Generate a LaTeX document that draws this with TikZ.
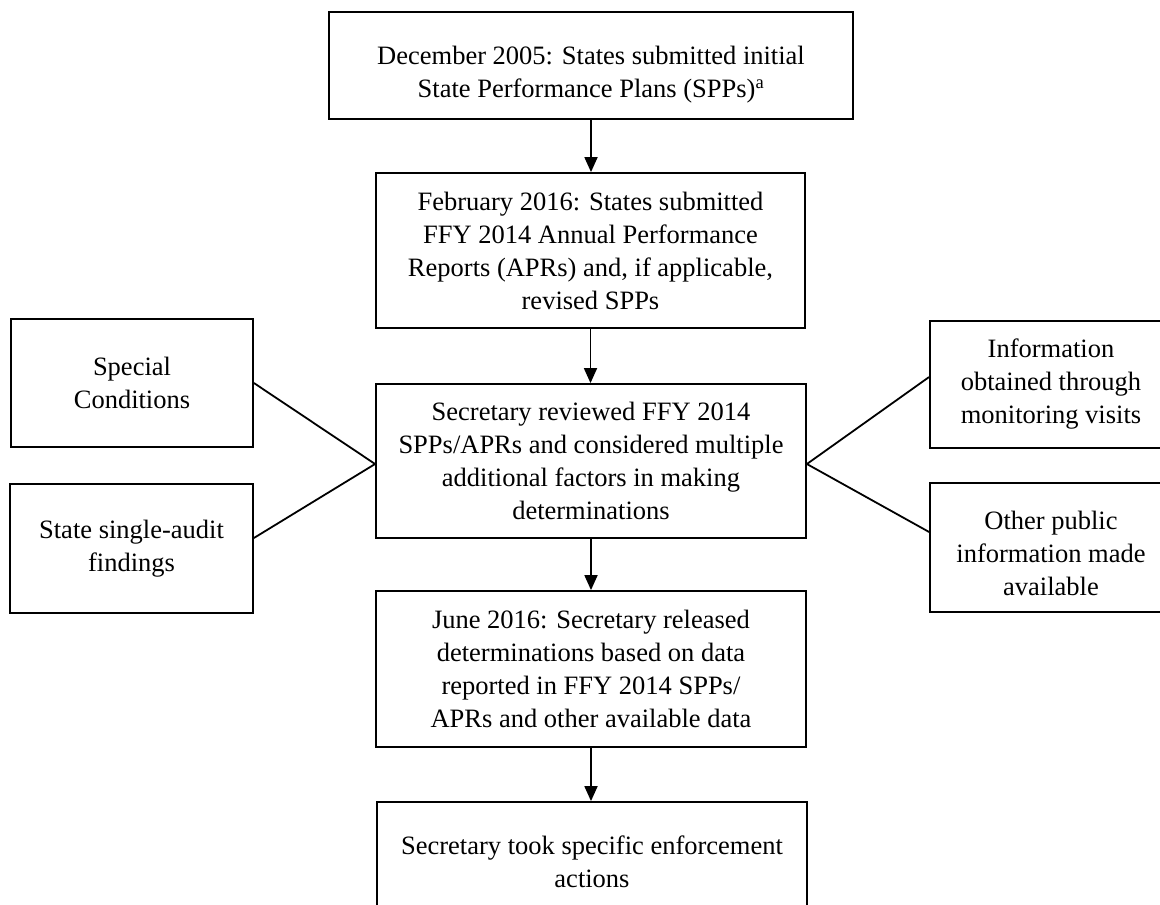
\documentclass[tikz,border=0pt]{standalone}
\usepackage{fontspec}
\setmainfont{Liberation Serif}
\usetikzlibrary{arrows.meta}
\tikzset{
  box/.style={draw, line width=1.8pt, inner sep=0pt, align=center,
    font=\fontsize{26.5}{33}\selectfont},
  arr/.style={line width=1.8pt, -{Triangle[width=13pt,length=15pt]}},
  link/.style={line width=1.8pt}
}
\begin{document}
\begin{tikzpicture}[x=1pt,y=-1pt]
\useasboundingbox (0,0) rectangle (1160,905);
\clip (0,0) rectangle (1160,905);
\node[box, minimum width=524pt, minimum height=107pt] (top) at (591,65.5)
  {\rule{0pt}{36pt}December 2005: States submitted initial\\State Performance Plans (SPPs)\textsuperscript{a}};
\node[box, minimum width=429pt, minimum height=155pt] (feb) at (590.5,250.5)
  {February 2016: States submitted\\FFY 2014 Annual Performance\\Reports (APRs) and, if applicable,\\revised SPPs};
\node[box, minimum width=430pt, minimum height=154pt] (sec) at (591,461)
  {Secretary reviewed FFY 2014\\SPPs/APRs and considered multiple\\additional factors in making\\determinations};
\node[box, minimum width=430pt, minimum height=156pt] (june) at (591,669)
  {June 2016: Secretary released\\determinations based on data\\reported in FFY 2014 SPPs/\\APRs and other available data};
\node[box, minimum width=430pt, minimum height=120pt] (took) at (592,862)
  {Secretary took specific enforcement\\actions};
\node[box, minimum width=242pt, minimum height=128pt] (sc) at (132,383)
  {Special\\Conditions};
\node[box, minimum width=243pt, minimum height=129pt] (audit) at (131.5,548.5)
  {State single-audit\\findings};
\node[box, minimum width=242pt, minimum height=127pt] (info) at (1051,384.5)
  {Information\\obtained through\\monitoring visits};
\node[box, minimum width=242pt, minimum height=129pt] (other) at (1051,547.5)
  {\rule{0pt}{31pt}Other public\\information made\\available};
\draw[arr] (top.south) -- (top.south |- feb.north);
\draw[arr] (feb.south) -- (feb.south |- sec.north);
\draw[arr] (sec.south) -- (sec.south |- june.north);
\draw[arr] (june.south) -- (june.south |- took.north);
\draw[link] (sc.east) -- ([yshift=-3pt]sec.west) -- ([yshift=10.5pt]audit.east);
\draw[link] (info.west |- 0,377) -- ([yshift=-3pt]sec.east) -- (other.west |- 0,532);
\end{tikzpicture}
\end{document}
